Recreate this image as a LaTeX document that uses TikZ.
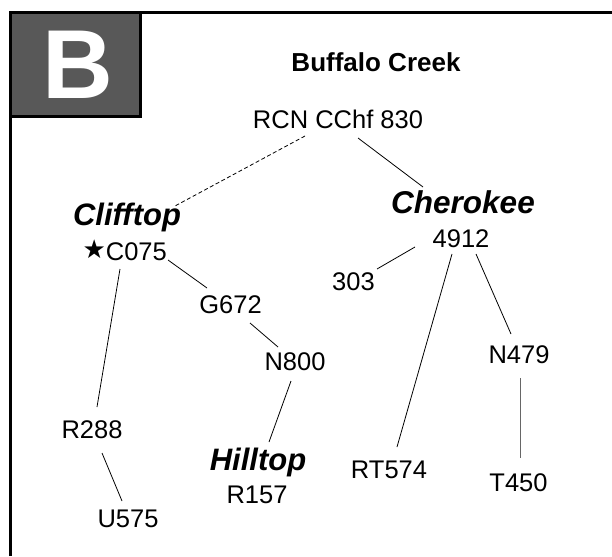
\documentclass[tikz,border=0pt]{standalone}
\usepackage{fontspec}
\setmainfont{Liberation Sans}
\newfontfamily\symf{DejaVu Sans}
\definecolor{boxgray}{HTML}{585858}
\begin{document}
\begin{tikzpicture}[x=1pt,y=-1pt,
  lbl/.style={inner sep=0pt,anchor=base,font=\fontsize{25.5}{28}\selectfont},
  site/.style={inner sep=0pt,anchor=base,font=\fontsize{31}{34}\selectfont\bfseries\itshape},
  link/.style={line width=0.8pt,black},
  framel/.style={line width=3pt,black}]
\useasboundingbox (0,0) rectangle (612,556);
\fill[white] (0,0) rectangle (612,556);
% frame
\draw[framel] (10.5,556) -- (10.5,12.5) -- (612,12.5);
\draw[framel,fill=boxgray] (10.5,12.5) rectangle (140,117);
\node[inner sep=0pt,text=white,font=\fontsize{98}{100}\selectfont\bfseries] (badge) at (77.5,65) {B};
% texts
\node[inner sep=0pt,anchor=base,font=\fontsize{26}{28}\selectfont\bfseries] (title) at (376,72) {Buffalo Creek};
\node[lbl] (rcn) at (338,129) {RCN CChf 830};
\node[site] (clifftop) at (127,225) {Clifftop};
\node[lbl,anchor=base east] (c075) at (167,260) {\raisebox{2pt}{\symf\fontsize{26}{26}\selectfont ★}\hspace{0pt}C075};
\node[lbl] (g672) at (230.5,313) {G672};
\node[lbl] (n800) at (295,370) {N800};
\node[site,font=\fontsize{31.5}{34}\selectfont\bfseries\itshape] (cherokee) at (463,213) {Cherokee};
\node[lbl] (n4912) at (461,247) {4912};
\node[lbl] (n303) at (353.5,290) {303};
\node[lbl] (n479) at (519,363) {N479};
\node[lbl] (r288) at (92,438) {R288};
\node[lbl] (u575) at (128,527) {U575};
\node[site] (hilltop) at (258,470) {Hilltop};
\node[lbl] (r157) at (257,503) {R157};
\node[lbl] (rt574) at (389,478) {RT574};
\node[lbl] (t450) at (518.5,491) {T450};
% connectors
\draw[link,dashed,dash pattern=on 4pt off 2.5pt] ([shift={(-33,7)}]rcn.base) -- ([shift={(48,-19)}]clifftop.base);
\draw[link] ([shift={(20,9)}]rcn.base) -- ([shift={(-40,-26)}]cherokee.base);
\draw[link] ([shift={(1,0)}]c075.base east) -- ([shift={(-23.5,-25)}]g672.base);
\draw[link] ([shift={(19.5,10)}]g672.base) -- ([shift={(-17,-23)}]n800.base);
\draw[link] ([shift={(-47,9)}]c075.base east) -- ([shift={(5,-31)}]r288.base);
\draw[link] ([shift={(10,15)}]r288.base) -- ([shift={(-6,-26)}]u575.base);
\draw[link] ([shift={(-4,11)}]n800.base) -- ([shift={(11,-28)}]hilltop.base);
\draw[link] ([shift={(-46,0)}]n4912.base) -- ([shift={(23.5,-21)}]n303.base);
\draw[link] ([shift={(-9,7)}]n4912.base) -- ([shift={(8,-31)}]rt574.base);
\draw[link] ([shift={(15,7)}]n4912.base) -- ([shift={(-8,-29)}]n479.base);
\draw[link,gray!80!black,line width=1pt] ([shift={(1,15)}]n479.base) -- ([shift={(1.5,-33)}]t450.base);
\end{tikzpicture}
\end{document}
